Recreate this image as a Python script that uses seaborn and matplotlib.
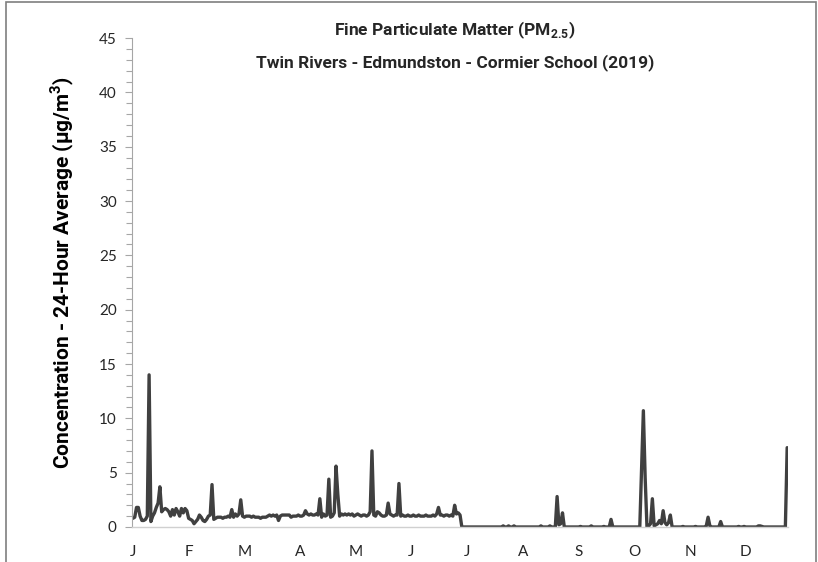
import numpy as np
import pandas as pd
import matplotlib
matplotlib.use("Agg")
import matplotlib.pyplot as plt
from matplotlib.patches import Rectangle
from matplotlib.ticker import MultipleLocator
import seaborn as sns

# daily 24-hour average PM2.5 (ug/m3), one list per month
jan = [0.8, 0.9, 1.8, 1.8, 1.0, 0.6, 0.6, 0.7, 1.0, 14.0,
       0.5, 1.0, 1.3, 1.8, 2.2, 3.7, 1.4, 1.6, 1.7, 1.6,
       1.4, 1.0, 1.6, 1.1, 1.7, 1.4, 1.0, 1.7, 1.3, 1.7,
       1.5]
feb = [0.8, 0.7, 0.6, 0.3, 0.5, 0.7, 1.1, 0.9, 0.6, 0.5,
       0.7, 1.0, 1.1, 3.9, 0.7, 0.8, 0.9, 0.9, 0.9, 0.8,
       0.9, 0.9, 1.0, 0.9, 1.6, 0.9, 1.2, 1.0]
mar = [1.2, 2.5, 1.0, 0.9, 1.0, 1.0, 1.0, 0.9, 1.0, 0.9,
       0.9, 0.9, 0.8, 0.9, 0.9, 0.9, 1.0, 1.1, 1.0, 1.1,
       1.0, 1.1, 0.6, 1.0, 1.1, 1.1, 1.1, 1.1, 1.1, 0.9,
       1.0]
apr = [1.0, 1.0, 1.1, 1.0, 1.0, 1.1, 1.5, 1.2, 1.1, 1.2,
       1.1, 1.1, 1.2, 1.1, 2.6, 0.9, 1.2, 1.0, 1.1, 4.4,
       0.9, 1.0, 1.3, 5.6, 3.0, 1.0, 1.2, 1.1, 1.2, 1.1]
may = [1.2, 1.1, 1.2, 1.0, 1.1, 1.2, 1.1, 1.0, 1.1, 1.1,
       1.0, 1.1, 1.4, 7.0, 1.1, 1.0, 1.4, 1.3, 1.1, 1.0,
       1.0, 1.1, 2.2, 1.2, 1.1, 1.0, 1.1, 1.1, 4.0, 1.0,
       1.1]
jun = [1.0, 1.0, 1.1, 1.0, 1.0, 1.1, 1.0, 1.0, 1.1, 1.0,
       1.0, 1.0, 1.1, 1.0, 1.0, 1.0, 1.1, 1.0, 1.2, 1.8,
       1.1, 1.1, 1.0, 1.1, 1.1, 1.0, 1.1, 1.0, 2.0, 1.2]
jul = [1.3, 1.1, 0.0, 0.0, 0.0, 0.0, 0.0, 0.0, 0.0, 0.0,
       0.0, 0.0, 0.0, 0.0, 0.0, 0.0, 0.0, 0.0, 0.0, 0.0,
       0.0, 0.0, 0.0, 0.0, 0.0, 0.1, 0.0, 0.0, 0.1, 0.0,
       0.0]
aug = [0.1, 0.0, 0.0, 0.0, 0.0, 0.0, 0.0, 0.0, 0.0, 0.0,
       0.0, 0.0, 0.0, 0.0, 0.0, 0.1, 0.0, 0.0, 0.0, 0.0,
       0.1, 0.0, 0.0, 0.0, 2.8, 0.2, 0.3, 1.3, 0.0, 0.0,
       0.0]
sep = [0.0, 0.0, 0.0, 0.0, 0.0, 0.0, 0.05, 0.0, 0.0, 0.0,
       0.0, 0.0, 0.1, 0.0, 0.0, 0.0, 0.0, 0.0, 0.0, 0.05,
       0.0, 0.0, 0.0, 0.7, 0.0, 0.0, 0.0, 0.0, 0.0, 0.0]
oct_ = [0.0, 0.0, 0.0, 0.0, 0.0, 0.0, 0.0, 0.0, 0.0, 0.0,
        5.3, 10.7, 4.5, 0.0, 0.1, 0.3, 2.6, 0.1, 0.2, 0.3,
        0.6, 0.3, 1.5, 0.4, 0.2, 0.4, 1.1, 0.0, 0.0, 0.0,
        0.0]
nov = [0.0, 0.0, 0.05, 0.0, 0.0, 0.0, 0.0, 0.0, 0.0, 0.05,
       0.0, 0.0, 0.0, 0.0, 0.0, 0.1, 0.9, 0.1, 0.0, 0.0,
       0.0, 0.0, 0.0, 0.5, 0.0, 0.0, 0.0, 0.0, 0.0, 0.0]
dec = [0.0, 0.0, 0.0, 0.05, 0.0, 0.0, 0.05, 0.0, 0.0, 0.0,
       0.0, 0.0, 0.0, 0.0, 0.1, 0.1, 0.05, 0.0, 0.0, 0.0,
       0.0, 0.0, 0.0, 0.0, 0.0, 0.0, 0.0, 0.0, 0.0, 0.0,
       7.3]

# Excel-style category axis: a label every 31 points
month_letters = ["J", "F", "M", "A", "M", "J", "J", "A", "S", "O", "N", "D"]
label_step = 31

pm25 = jan + feb + mar + apr + may + jun + jul + aug + sep + oct_ + nov + dec
df = pd.DataFrame({"day": np.arange(len(pm25)), "pm25": pm25})

sns.set_style("white")
plt.rcParams["font.family"] = ["Lato", "DejaVu Sans"]
plt.rcParams["mathtext.fontset"] = "custom"
plt.rcParams["mathtext.rm"] = "Roboto"
plt.rcParams["mathtext.bf"] = "Roboto:bold"
bold_font = ["Roboto", "DejaVu Sans"]

fig = plt.figure(figsize=(8.18, 5.62), dpi=100)
ax = fig.add_axes([0.1614, 0.0623, 0.802, 0.870])

sns.lineplot(data=df, x="day", y="pm25", ax=ax, color="#404040", linewidth=2.4)

ax.set_xlim(-0.5, len(pm25) - 0.5)
ax.set_ylim(0, 45)
ax.yaxis.set_major_locator(MultipleLocator(5))
ax.yaxis.set_minor_locator(MultipleLocator(1))
ax.set_xticks(np.arange(len(month_letters)) * label_step)
ax.set_xticklabels(month_letters)

ax.tick_params(axis="x", length=0, pad=13, labelsize=11, labelcolor="#262626")
ax.tick_params(axis="y", which="major", direction="out", length=5, width=0.8,
               color="#a6a6a6", labelsize=11, labelcolor="#262626", pad=6, left=True)
ax.tick_params(axis="y", which="minor", direction="out", length=4, width=0.8,
               color="#a6a6a6", left=True)

for side in ["top", "right"]:
    ax.spines[side].set_visible(False)
ax.spines["left"].set_color("#a6a6a6")
ax.spines["bottom"].set_color("#d0d0d0")
ax.spines["left"].set_linewidth(0.8)
ax.spines["bottom"].set_linewidth(1.0)

ax.set_xlabel("")
ax.set_ylabel("Concentration - 24-Hour Average (µg/m$^\\mathbf{3}$)",
              fontsize=15, fontweight="bold", color="#000000", family=bold_font)
ax.yaxis.set_label_coords(-0.085, 0.52)

fig.text(0.556, 0.947, "Fine Particulate Matter (PM$_{\\mathbf{2.5}}$)",
         ha="center", va="center", fontsize=12.5, fontweight="bold", family=bold_font)
fig.text(0.556, 0.888, "Twin Rivers - Edmundston - Cormier School (2019)",
         ha="center", va="center", fontsize=12.5, fontweight="bold", family=bold_font)

fig.patches.append(Rectangle((0.007, -0.01), 0.99, 1.006, transform=fig.transFigure,
                             fill=False, edgecolor="#7f7f7f", linewidth=1.2))

fig.savefig("out.png", dpi=100)
